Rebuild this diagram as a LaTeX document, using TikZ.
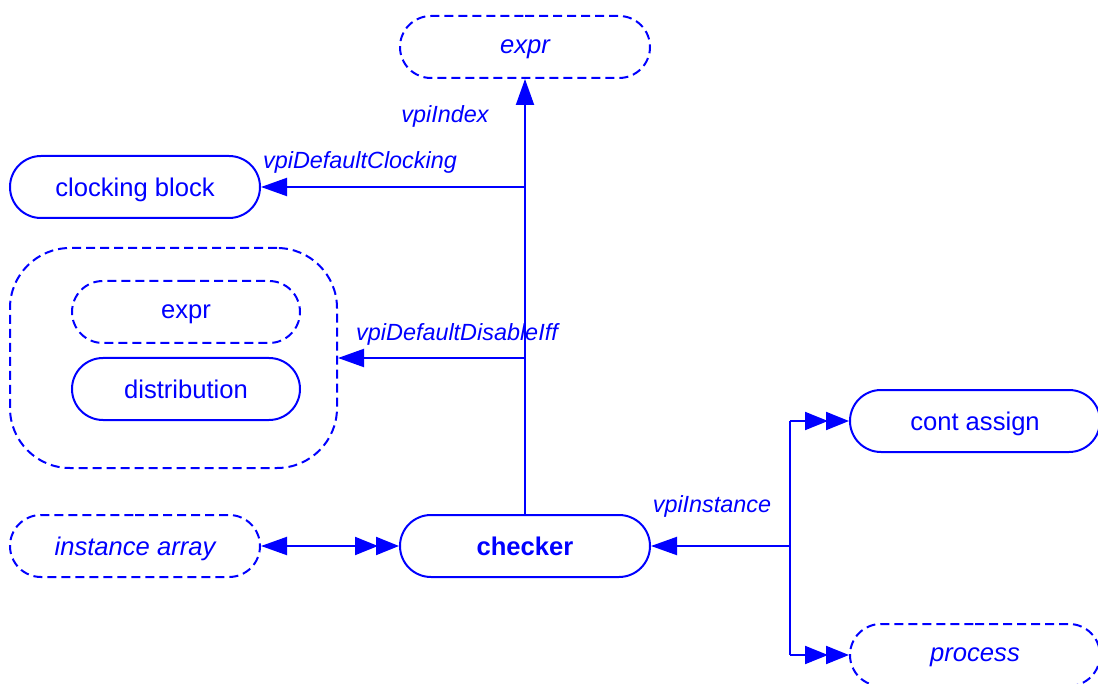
\documentclass[tikz,border=0pt]{standalone}
\usepackage{fontspec}
\setmainfont{Liberation Sans}
\usepackage{tikz}
\usetikzlibrary{arrows.meta,shapes.misc}

\begin{document}
\begin{tikzpicture}
      [ x = .5pt, y = -.5pt
      , every node/.style =
        { text = blue, font = \fontsize{12.8}{15}\selectfont }
      , obj/.style =
        { draw = blue, line width = 1pt, rounded rectangle, text depth = 0pt,
          minimum width = 125pt, minimum height = 31pt, inner sep = 0pt }
      , ref/.style =
        { obj, dash pattern = on 4.5pt off 2.5pt, font = \fontsize{12.8}{15}\selectfont\itshape }
      , lbl/.style =
        { font = \fontsize{11.7}{14}\selectfont\itshape, inner sep = 0pt }
      , edge/.style =
        { draw = blue, line width = 1pt }
      , single/.style =
        { -{Triangle[length=13pt,width=9pt]} }
      , twin/.style =
        { -{Triangle[length=11.5pt,width=9pt,sep=-1pt] Triangle[length=11.5pt,width=9pt]} }
      , both/.style =
        { {Triangle[length=13pt,width=9pt]}-{Triangle[length=11.5pt,width=9pt,sep=-1pt] Triangle[length=11.5pt,width=9pt]} }
      ]
      \useasboundingbox (0,0) rectangle (1098,684);
      \node [ref] (expr) at (525, 47) {expr};
      \node [obj] (clk) at (135, 187) {clocking block};
      \node [draw = blue, line width = 1pt, dash pattern = on 4.5pt off 2.5pt,
             rounded corners = 30pt, minimum width = 163.5pt, minimum height = 110pt]
             (group) at (173.5, 358) {};
      \node [obj, dash pattern = on 4.5pt off 2.5pt, minimum width = 114pt] (gexpr) at (186, 312) {expr};
      \node [obj, minimum width = 114pt] (dist) at (186, 389) {distribution};
      \node [ref] (inst) at (135, 546) {instance array};
      \node [obj, font = \fontsize{12.8}{15}\selectfont\bfseries] (checker) at (525, 546) {checker};
      \node [obj] (cont) at (975, 421) {cont assign};
      \node [ref] (proc) at (975, 655) {process};
      \coordinate (fork) at (790, 546);
      % relations
      \draw [edge,single] (checker.north) to (expr.south);
      \draw [edge,single] (checker.north |- clk.east) to (clk.east);
      \draw [edge,single] (checker.north |- group.east) to (group.east);
      \draw [edge,both] (inst.east) to (checker.west);
      \draw [edge,single] (fork) to (checker.east);
      \draw [edge] (cont.west -| fork) to (proc.west -| fork);
      \draw [edge,twin] (cont.west -| fork) to (cont.west);
      \draw [edge,twin] (proc.west -| fork) to (proc.west);
      \node [lbl] at (445, 116) {vpiIndex};
      \node [lbl] at (360, 162) {vpiDefaultClocking};
      \node [lbl] at (457, 334) {vpiDefaultDisableIff};
      \node [lbl] at (712, 506) {vpiInstance};
    \end{tikzpicture}
\end{document}
